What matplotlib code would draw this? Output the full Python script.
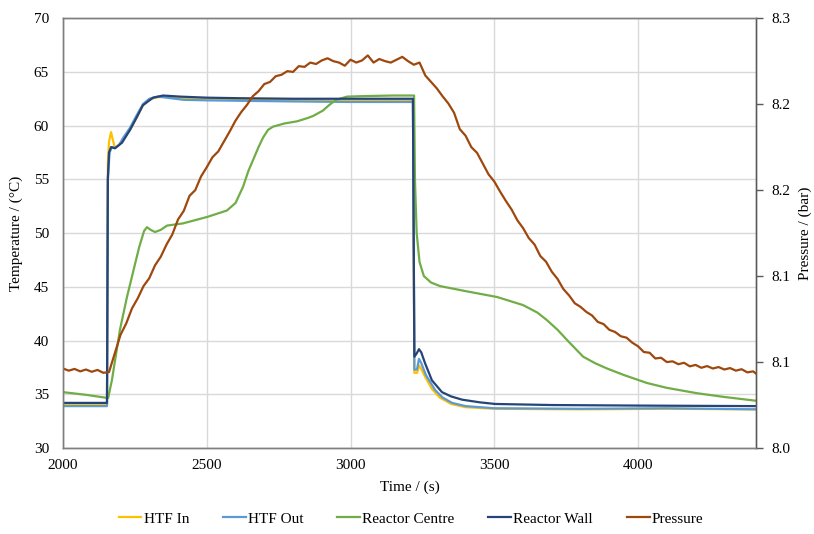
import numpy as np
import matplotlib
matplotlib.use('Agg')
from matplotlib import pyplot as plt
from matplotlib.ticker import FormatStrFormatter

plt.rcParams['font.family'] = ['Liberation Serif', 'DejaVu Serif']

# HTF inlet temperature
t_in = [2000, 2153, 2156, 2160, 2167, 2174, 2181, 2195, 2210, 2233, 2257, 2278, 2300,
        2320, 2350, 2400, 2500, 2600, 2800, 3000, 3217, 3222, 3232, 3238, 3245, 3260,
        3283, 3310, 3350, 3400, 3500, 3800, 4100, 4410]
T_in = [34.0, 34.0, 56.5, 58.5, 59.4, 58.6, 57.9, 58.2, 58.8, 59.6, 60.8, 61.9, 62.4,
        62.6, 62.7, 62.6, 62.45, 62.4, 62.35, 62.3, 62.3, 37.0, 37.0, 37.7, 37.4, 36.6,
        35.5, 34.7, 34.1, 33.8, 33.65, 33.6, 33.65, 33.6]

# HTF outlet temperature
t_out = [2000, 2153, 2156, 2162, 2170, 2180, 2195, 2210, 2233, 2257, 2278, 2300, 2330,
         2360, 2420, 2500, 2800, 3000, 3217, 3222, 3231, 3238, 3246, 3262, 3294, 3320,
         3353, 3400, 3500, 3800, 4100, 4410]
T_out = [33.9, 33.9, 55.0, 57.5, 58.0, 57.9, 58.2, 58.9, 59.8, 61.0, 62.0, 62.5, 62.7,
         62.6, 62.4, 62.35, 62.25, 62.2, 62.2, 37.3, 37.3, 38.3, 37.9, 36.8, 35.4, 34.7,
         34.2, 33.9, 33.7, 33.65, 33.7, 33.6]

# reactor centre temperature
t_centre = [2000, 2080, 2157, 2170, 2198, 2222, 2243, 2265, 2282, 2292, 2305, 2320, 2340,
            2362, 2417, 2501, 2570, 2600, 2626, 2645, 2661, 2680, 2696, 2713, 2730, 2770,
            2814, 2850, 2870, 2904, 2925, 2950, 2988, 3050, 3150, 3221, 3224, 3230, 3240,
            3255, 3280, 3311, 3400, 3510, 3600, 3650, 3683, 3720, 3753, 3780, 3809, 3850,
            3892, 3950, 4031, 4100, 4205, 4300, 4410]
T_centre = [35.2, 34.95, 34.65, 36.3, 41.0, 44.0, 46.3, 48.7, 50.2, 50.55, 50.3, 50.1, 50.3,
            50.7, 50.9, 51.5, 52.1, 52.8, 54.3, 55.8, 56.8, 58.0, 58.9, 59.6, 59.9, 60.2,
            60.4, 60.7, 60.9, 61.4, 61.9, 62.4, 62.7, 62.75, 62.8, 62.8, 55.0, 50.0, 47.3,
            46.0, 45.4, 45.07, 44.6, 44.05, 43.3, 42.6, 41.9, 41.0, 40.05, 39.3, 38.5, 37.9,
            37.4, 36.8, 36.05, 35.6, 35.1, 34.75, 34.4]

# reactor wall temperature
t_wall = [2000, 2153, 2156, 2160, 2167, 2181, 2195, 2205, 2233, 2257, 2278, 2313, 2348,
          2407, 2501, 2616, 2800, 3000, 3217, 3222, 3230, 3238, 3246, 3259, 3283, 3318,
          3350, 3388, 3450, 3503, 3700, 4000, 4410]
T_wall = [34.2, 34.2, 55.0, 57.5, 58.0, 57.9, 58.2, 58.4, 59.6, 60.8, 61.9, 62.6, 62.8,
          62.7, 62.6, 62.55, 62.5, 62.5, 62.5, 38.5, 38.8, 39.2, 38.9, 37.9, 36.3, 35.2,
          34.8, 34.5, 34.25, 34.1, 34.0, 33.95, 33.9]

# pressure, logged every 20 s
t_p = list(range(2000, 4401, 20)) + [4410]
P = [8.0555, 8.0540, 8.0552, 8.0535, 8.0548, 8.0532, 8.0545, 8.0525, 8.0530, 8.0660,
     8.0790, 8.0870, 8.0975, 8.1045, 8.1130, 8.1185, 8.1275, 8.1335, 8.1420, 8.1490,
     8.1595, 8.1655, 8.1760, 8.1800, 8.1895, 8.1960, 8.2030, 8.2070, 8.2140, 8.2210,
     8.2285, 8.2345, 8.2395, 8.2455, 8.2490, 8.2540, 8.2555, 8.2595, 8.2605, 8.2630,
     8.2625, 8.2665, 8.2660, 8.2690, 8.2680, 8.2705, 8.2720, 8.2700, 8.2690, 8.2668,
     8.2710, 8.2690, 8.2705, 8.2740, 8.2690, 8.2715, 8.2700, 8.2690, 8.2710, 8.2730,
     8.2700, 8.2675, 8.2690, 8.2600, 8.2555, 8.2510, 8.2455, 8.2405, 8.2340, 8.2225,
     8.2180, 8.2100, 8.2060, 8.1985, 8.1910, 8.1860, 8.1790, 8.1725, 8.1665, 8.1590,
     8.1535, 8.1465, 8.1420, 8.1340, 8.1300, 8.1230, 8.1180, 8.1110, 8.1065, 8.1010,
     8.0985, 8.0950, 8.0925, 8.0880, 8.0865, 8.0825, 8.0810, 8.0780, 8.0770, 8.0735,
     8.0710, 8.0670, 8.0665, 8.0625, 8.0630, 8.0600, 8.0605, 8.0585, 8.0595, 8.0570,
     8.0580, 8.0560, 8.0572, 8.0555, 8.0565, 8.0548, 8.0558, 8.0540, 8.0550, 8.0528,
     8.0535, 8.0520]

fig = plt.figure(figsize=(8.14, 5.34), dpi=100)
ax = fig.add_axes([0.0774, 0.161, 0.8513, 0.805])
ax2 = ax.twinx()

lw = 1.6
l1, = ax.plot(t_in, T_in, color='#FFC000', lw=lw, label='HTF In')
l2, = ax.plot(t_out, T_out, color='#5B9BD5', lw=lw, label='HTF Out')
l3, = ax.plot(t_centre, T_centre, color='#70AD47', lw=lw, label='Reactor Centre')
l4, = ax.plot(t_wall, T_wall, color='#264478', lw=lw, label='Reactor Wall')
l5, = ax2.plot(t_p, P, color='#9E480E', lw=lw, label='Pressure')

ax.set_xlim(2000, 4410)
ax.set_ylim(30, 70)
ax.set_xticks([2000, 2500, 3000, 3500, 4000])
ax.set_yticks(np.arange(30, 71, 5))
ax.grid(True, color='#D9D9D9', lw=1)
ax.set_axisbelow(True)
ax.tick_params(axis='both', length=0, labelsize=11, colors='#000000')
ax.tick_params(axis='y', pad=10)
ax.tick_params(axis='x', pad=8)

ax2.set_ylim(8.0, 8.3)
ax2.set_yticks(np.arange(8.0, 8.301, 0.06))
ax2.yaxis.set_major_formatter(FormatStrFormatter('%.1f'))
ax2.tick_params(axis='y', length=5, width=1, color='#595959', labelsize=11, pad=6)

for a in (ax, ax2):
    for s in a.spines.values():
        s.set_color('#7F7F7F')
        s.set_linewidth(1)
ax2.spines['right'].set_color('#595959')

ax.set_xlabel('Time / (s)', fontsize=11, labelpad=6)
ax.set_ylabel('Temperature / (°C)', fontsize=11, labelpad=8)
ax2.set_ylabel('Pressure / (bar)', fontsize=11, labelpad=6)

fig.legend(handles=[l1, l2, l3, l4, l5], loc='lower center', bbox_to_anchor=(0.505, -0.01),
           ncol=5, frameon=False, fontsize=11, handlelength=1.5, handletextpad=0.15,
           columnspacing=2.2)

fig.savefig('out.png', dpi=100)
